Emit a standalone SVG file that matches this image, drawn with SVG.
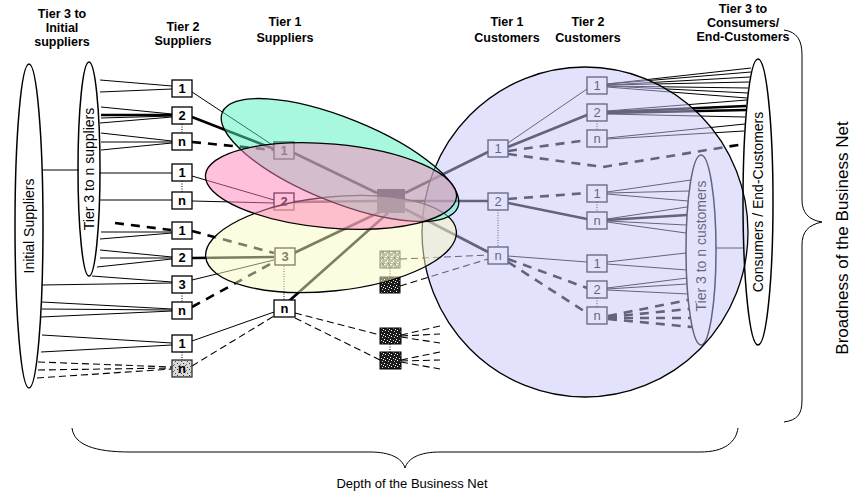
<svg xmlns="http://www.w3.org/2000/svg" width="851" height="493" viewBox="0 0 851 493">
  <defs>
    <style>
      .hd { font-family: "Liberation Sans", Arial, sans-serif; font-weight: bold; font-size: 12.5px; text-anchor: middle; fill: #000; }
      .lbl { font-family: "Liberation Sans", Arial, sans-serif; font-size: 14px; text-anchor: middle; fill: #000; }
      .sbx { fill: #fff; stroke: #000; stroke-width: 1.3; }
      .snum { font-family: "Liberation Sans", Arial, sans-serif; font-weight: bold; font-size: 13px; text-anchor: middle; fill: #000; }
      .cnum { font-family: "Liberation Sans", Arial, sans-serif; font-size: 13px; text-anchor: middle; fill: #000; }
      .ln { stroke: #000; stroke-width: 1; fill: none; }
      .thk { stroke: #000; stroke-width: 2.6; fill: none; }
      .dsh { stroke: #000; stroke-width: 1.1; fill: none; stroke-dasharray: 7 4; }
      .dthk { stroke: #000; stroke-width: 2.6; fill: none; stroke-dasharray: 9 7; }
      .dot { stroke: #000; stroke-width: 1; fill: none; stroke-dasharray: 1 1.5; }
      .grp { fill: none; stroke: #000; stroke-width: 1.5; }
      .brace { fill: none; stroke: #000; stroke-width: 1; }
    </style>
    <pattern id="noiseDk" width="6" height="6" patternUnits="userSpaceOnUse">
      <rect width="6" height="6" fill="#1c1c1c"/>
      <rect x="1" y="0" width="1" height="1" fill="#fff"/>
      <rect x="4" y="1" width="1" height="1" fill="#ccc"/>
      <rect x="0" y="3" width="1" height="1" fill="#fff"/>
      <rect x="3" y="4" width="1" height="1" fill="#ddd"/>
      <rect x="5" y="5" width="1" height="1" fill="#fff"/>
    </pattern>
    <pattern id="noiseMd" width="6" height="6" patternUnits="userSpaceOnUse">
      <rect width="6" height="6" fill="#8a8a8a"/>
      <rect x="0" y="0" width="2" height="1" fill="#fff"/>
      <rect x="3" y="2" width="1" height="2" fill="#eee"/>
      <rect x="5" y="0" width="1" height="1" fill="#222"/>
      <rect x="1" y="4" width="2" height="1" fill="#fff"/>
      <rect x="4" y="5" width="1" height="1" fill="#111"/>
    </pattern>
    <pattern id="noiseLt" width="6" height="6" patternUnits="userSpaceOnUse">
      <rect width="6" height="6" fill="#d8d8d8"/>
      <rect x="1" y="1" width="1" height="1" fill="#444"/>
      <rect x="4" y="0" width="1" height="1" fill="#666"/>
      <rect x="3" y="3" width="1" height="1" fill="#333"/>
      <rect x="0" y="4" width="1" height="1" fill="#777"/>
      <rect x="5" y="5" width="1" height="1" fill="#555"/>
    </pattern>
  </defs>

  <rect width="851" height="493" fill="#fff"/>

  <!-- column headings -->
  <g id="headings">
    <text class="hd" x="62" y="18">Tier 3 to</text>
    <text class="hd" x="62" y="32">Initial</text>
    <text class="hd" x="62" y="46">suppliers</text>
    <text class="hd" x="183" y="31">Tier 2</text>
    <text class="hd" x="183" y="45">Suppliers</text>
    <text class="hd" x="285" y="26">Tier 1</text>
    <text class="hd" x="285" y="42">Suppliers</text>
    <text class="hd" x="507" y="26">Tier 1</text>
    <text class="hd" x="507" y="42">Customers</text>
    <text class="hd" x="588" y="26">Tier 2</text>
    <text class="hd" x="588" y="42">Customers</text>
    <text class="hd" x="743" y="13">Tier 3 to</text>
    <text class="hd" x="743" y="27">Consumers/</text>
    <text class="hd" x="743" y="41">End-Customers</text>
  </g>

  <!-- connectors -->
  <g id="connectors">
    <!-- initial suppliers to tier 3..n suppliers -->
    <line class="ln" x1="43" y1="170" x2="79" y2="170"/>
    <!-- tier 3..n / initial suppliers to tier 2 suppliers -->
    <line class="ln" x1="100" y1="80" x2="172" y2="86"/>
    <line class="ln" x1="100" y1="92" x2="172" y2="89"/>
    <line class="ln" x1="101" y1="107" x2="172" y2="114"/>
    <line class="thk" x1="101" y1="115" x2="172" y2="115"/>
    <line class="ln" x1="101" y1="118" x2="172" y2="116"/>
    <line class="ln" x1="100" y1="123" x2="172" y2="117"/>
    <line class="ln" x1="101" y1="133" x2="172" y2="141"/>
    <line class="ln" x1="101" y1="142" x2="172" y2="142"/>
    <line class="ln" x1="101" y1="150" x2="172" y2="143"/>
    <line class="ln" x1="99" y1="173" x2="172" y2="173"/>
    <line class="ln" x1="100" y1="200" x2="172" y2="200"/>
    <line class="dthk" x1="115" y1="223" x2="171" y2="230"/>
    <line class="ln" x1="101" y1="232" x2="172" y2="232"/>
    <line class="ln" x1="100" y1="239" x2="172" y2="233"/>
    <line class="ln" x1="100" y1="250" x2="172" y2="257"/>
    <line class="ln" x1="100" y1="258" x2="172" y2="258"/>
    <line class="ln" x1="97" y1="267" x2="172" y2="259"/>
    <line class="ln" x1="42" y1="285" x2="172" y2="283"/>
    <line class="ln" x1="92" y1="276" x2="172" y2="282"/>
    <line class="ln" x1="42" y1="302" x2="172" y2="309"/>
    <line class="ln" x1="42" y1="309" x2="172" y2="310"/>
    <line class="ln" x1="41" y1="317" x2="172" y2="311"/>
    <line class="ln" x1="42" y1="335" x2="172" y2="343"/>
    <line class="ln" x1="41" y1="352" x2="172" y2="345"/>
    <line class="dsh" x1="38" y1="362" x2="172" y2="367"/>
    <line class="dsh" x1="38" y1="370" x2="172" y2="368"/>
    <line class="dsh" x1="37" y1="378" x2="172" y2="369"/>

    <!-- tier 2 suppliers to tier 1 suppliers -->
    <line class="ln" x1="192" y1="92" x2="274" y2="146"/>
    <line class="thk" x1="192" y1="117" x2="274" y2="149"/>
    <line class="dthk" x1="192" y1="142" x2="274" y2="150"/>
    <line class="ln" x1="192" y1="176" x2="274" y2="200"/>
    <line class="ln" x1="192" y1="201" x2="274" y2="203"/>
    <line class="dthk" x1="192" y1="231" x2="274" y2="253"/>
    <line class="thk" x1="192" y1="258" x2="274" y2="257"/>
    <line class="ln" x1="192" y1="280" x2="274" y2="260"/>
    <line class="dthk" x1="192" y1="307" x2="274" y2="262"/>
    <line class="ln" x1="192" y1="341" x2="274" y2="312"/>
    <line class="dsh" x1="192" y1="366" x2="274" y2="316"/>

    <!-- tier 1 suppliers to focal company -->
    <line class="thk" x1="294" y1="153" x2="377" y2="193"/>
    <line class="thk" x1="294" y1="202" x2="377" y2="201"/>
    <line class="thk" x1="294" y1="253" x2="380" y2="212"/>
    <line class="thk" x1="289" y1="301" x2="388" y2="213"/>

    <!-- focal company to tier 1 customers -->
    <line class="thk" x1="405" y1="193" x2="488" y2="152"/>
    <line class="thk" x1="405" y1="201" x2="488" y2="201"/>
    <line class="thk" x1="405" y1="209" x2="488" y2="252"/>

    <!-- tier 1 supplier n to unknown partners -->
    <line class="dsh" x1="295" y1="313" x2="380" y2="335"/>
    <line class="dsh" x1="295" y1="318" x2="380" y2="360"/>
    <line class="dsh" x1="401" y1="335" x2="440" y2="326"/>
    <line class="dsh" x1="401" y1="336" x2="440" y2="334"/>
    <line class="dsh" x1="401" y1="337" x2="440" y2="343"/>
    <line class="dsh" x1="401" y1="360" x2="440" y2="352"/>
    <line class="dsh" x1="401" y1="361" x2="440" y2="360"/>
    <line class="dsh" x1="401" y1="362" x2="440" y2="369"/>
    <line class="dsh" x1="400" y1="259" x2="488" y2="255"/>
    <line class="dsh" x1="400" y1="286" x2="488" y2="259"/>

    <!-- tier 1 customers to tier 2 customers -->
    <line class="ln" x1="508" y1="143" x2="587" y2="89"/>
    <line class="thk" x1="508" y1="147" x2="587" y2="115"/>
    <line class="dthk" x1="508" y1="151" x2="587" y2="140"/>
    <polyline class="dthk" points="508,154 603,167 744,144"/>
    <line class="dthk" x1="508" y1="199" x2="587" y2="193"/>
    <line class="thk" x1="508" y1="203" x2="587" y2="219"/>
    <line class="ln" x1="508" y1="256" x2="587" y2="262"/>
    <line class="dthk" x1="508" y1="259" x2="587" y2="288"/>
    <line class="dthk" x1="508" y1="262" x2="587" y2="313"/>

    <!-- tier 2 customers to consumers / end-customers -->
    <line class="ln" x1="607" y1="84" x2="751" y2="68"/>
    <line class="ln" x1="607" y1="84" x2="751" y2="72"/>
    <line class="ln" x1="607" y1="85" x2="750" y2="77"/>
    <line class="ln" x1="607" y1="85" x2="749" y2="82"/>
    <line class="ln" x1="607" y1="86" x2="748" y2="88"/>
    <line class="ln" x1="607" y1="86" x2="748" y2="93"/>
    <line class="ln" x1="607" y1="87" x2="747" y2="98"/>
    <line class="ln" x1="607" y1="111" x2="747" y2="100"/>
    <line class="thk" x1="607" y1="112" x2="746" y2="106"/>
    <line class="thk" x1="607" y1="113" x2="746" y2="110"/>
    <line class="ln" x1="607" y1="114" x2="745" y2="117"/>
    <line class="ln" x1="607" y1="138" x2="745" y2="124"/>
    <line class="ln" x1="607" y1="139" x2="744" y2="131"/>

    <!-- tier 2 customers to tier 3..n customers -->
    <line class="ln" x1="607" y1="192" x2="691" y2="180"/>
    <line class="ln" x1="607" y1="193" x2="689" y2="191"/>
    <line class="ln" x1="607" y1="194" x2="688" y2="201"/>
    <line class="ln" x1="607" y1="219" x2="687" y2="207"/>
    <line class="thk" x1="607" y1="220" x2="687" y2="215"/>
    <line class="ln" x1="607" y1="221" x2="686" y2="225"/>
    <line class="ln" x1="607" y1="222" x2="686" y2="233"/>
    <line class="ln" x1="607" y1="262" x2="686" y2="253"/>
    <line class="ln" x1="607" y1="264" x2="687" y2="270"/>
    <line class="ln" x1="607" y1="288" x2="687" y2="278"/>
    <line class="ln" x1="607" y1="289" x2="687" y2="284"/>
    <line class="ln" x1="607" y1="290" x2="688" y2="294"/>
    <line class="dthk" x1="608" y1="316" x2="688" y2="300"/>
    <line class="dthk" x1="608" y1="317" x2="689" y2="309"/>
    <line class="dthk" x1="608" y1="318" x2="690" y2="318"/>
    <line class="dthk" x1="608" y1="319" x2="692" y2="327"/>
    <line class="ln" x1="716" y1="248" x2="743" y2="248"/>

    <!-- dotted links to further nodes -->
    <line class="dot" x1="182" y1="124" x2="182" y2="133"/>
    <line class="dot" x1="182" y1="181" x2="182" y2="192"/>
    <line class="dot" x1="182" y1="293" x2="182" y2="302"/>
    <line class="dot" x1="182" y1="352" x2="182" y2="360"/>
    <line class="dot" x1="284" y1="266" x2="284" y2="300"/>
    <line class="dot" x1="390" y1="268" x2="390" y2="277"/>
    <line class="dot" x1="390" y1="344" x2="390" y2="352"/>
    <line class="dot" x1="498" y1="210" x2="498" y2="247"/>
    <line class="dot" x1="597" y1="121" x2="597" y2="130"/>
    <line class="dot" x1="597" y1="202" x2="597" y2="212"/>
    <line class="dot" x1="597" y1="298" x2="597" y2="307"/>
  </g>

  <!-- supplier side groups -->
  <g id="initial-suppliers">
    <ellipse class="grp" cx="29" cy="226" rx="14" ry="162" fill="#fff"/>
    <text class="lbl" transform="translate(34 226) rotate(-90)">Initial Suppliers</text>
  </g>
  <g id="tier3-suppliers">
    <ellipse class="grp" cx="89" cy="169" rx="11" ry="107" fill="#fff"/>
    <text class="lbl" transform="translate(94 169) rotate(-90)">Tier 3 to n suppliers</text>
  </g>

  <!-- tier 2 suppliers -->
  <g id="s2-1"><rect class="sbx" x="172" y="80" width="20" height="17"/><text class="snum" x="182" y="93">1</text></g>
  <g id="s2-2"><rect class="sbx" x="172" y="107" width="20" height="17"/><text class="snum" x="182" y="120">2</text></g>
  <g id="s2-n"><rect class="sbx" x="172" y="133" width="20" height="17"/><text class="snum" x="182" y="146">n</text></g>
  <g id="s2-1b"><rect class="sbx" x="172" y="164" width="20" height="17"/><text class="snum" x="182" y="177">1</text></g>
  <g id="s2-nb"><rect class="sbx" x="172" y="192" width="20" height="17"/><text class="snum" x="182" y="205">n</text></g>
  <g id="s2-1c"><rect class="sbx" x="172" y="222" width="20" height="17"/><text class="snum" x="182" y="235">1</text></g>
  <g id="s2-2c"><rect class="sbx" x="172" y="249" width="20" height="17"/><text class="snum" x="182" y="262">2</text></g>
  <g id="s2-3c"><rect class="sbx" x="172" y="276" width="20" height="17"/><text class="snum" x="182" y="289">3</text></g>
  <g id="s2-nc"><rect class="sbx" x="172" y="302" width="20" height="17"/><text class="snum" x="182" y="315">n</text></g>
  <g id="s2-1d"><rect class="sbx" x="172" y="335" width="20" height="17"/><text class="snum" x="182" y="348">1</text></g>
  <g id="s2-nd"><rect x="172" y="360" width="20" height="17" fill="url(#noiseLt)" stroke="#333" stroke-width="1.3"/><text class="snum" x="182" y="373" fill="#222">n</text></g>

  <!-- tier 1 suppliers -->
  <g id="s1-1"><rect class="sbx" x="274" y="142" width="20" height="17"/><text class="snum" x="284" y="155">1</text></g>
  <g id="s1-2"><rect class="sbx" x="274" y="193" width="20" height="17"/><text class="snum" x="284" y="206">2</text></g>
  <g id="s1-3"><rect class="sbx" x="275" y="248" width="20" height="17"/><text class="snum" x="285" y="261">3</text></g>
  <g id="s1-n"><rect class="sbx" x="274" y="300" width="21" height="17" stroke-width="2"/><text class="snum" x="284.5" y="313">n</text></g>

  <!-- focal company -->
  <g id="focal"><rect x="377" y="189" width="28" height="24" fill="#000"/></g>

  <!-- partners of unknown identity -->
  <g id="u-1"><rect x="380" y="251" width="20" height="17" fill="url(#noiseMd)" stroke="#333"/></g>
  <g id="u-2"><rect x="380" y="277" width="20" height="16" fill="url(#noiseDk)" stroke="#000"/></g>
  <g id="u-3"><rect x="380" y="328" width="21" height="16" fill="url(#noiseDk)" stroke="#000"/></g>
  <g id="u-4"><rect x="380" y="352" width="21" height="17" fill="url(#noiseDk)" stroke="#000"/></g>

  <!-- customer side boxes -->
  <g id="c1-1"><rect class="sbx" x="488" y="140" width="20" height="17"/><text class="cnum" x="498" y="153">1</text></g>
  <g id="c1-2"><rect class="sbx" x="488" y="193" width="20" height="17"/><text class="cnum" x="498" y="206">2</text></g>
  <g id="c1-n"><rect class="sbx" x="488" y="247" width="20" height="17"/><text class="cnum" x="498" y="260">n</text></g>
  <g id="c2-1"><rect class="sbx" x="587" y="77" width="20" height="17"/><text class="cnum" x="597" y="90">1</text></g>
  <g id="c2-2"><rect class="sbx" x="587" y="104" width="20" height="17"/><text class="cnum" x="597" y="117">2</text></g>
  <g id="c2-n"><rect class="sbx" x="587" y="130" width="20" height="17"/><text class="cnum" x="597" y="143">n</text></g>
  <g id="c2-1b"><rect class="sbx" x="587" y="185" width="20" height="17"/><text class="cnum" x="597" y="198">1</text></g>
  <g id="c2-nb"><rect class="sbx" x="587" y="212" width="20" height="17"/><text class="cnum" x="597" y="225">n</text></g>
  <g id="c2-1c"><rect class="sbx" x="587" y="255" width="20" height="17"/><text class="cnum" x="597" y="268">1</text></g>
  <g id="c2-2c"><rect class="sbx" x="587" y="281" width="20" height="17"/><text class="cnum" x="597" y="294">2</text></g>
  <g id="c2-nc"><rect class="sbx" x="587" y="307" width="20" height="17"/><text class="cnum" x="597" y="320">n</text></g>

  <g id="tier3-customers">
    <ellipse class="grp" cx="701" cy="250" rx="15" ry="95" fill="none"/>
    <text class="lbl" transform="translate(706 246) rotate(-90)">Tier 3 to n customers</text>
  </g>

  <!-- customer network area (translucent so the content shows through) -->
  <g id="customer-net">
    <ellipse cx="585" cy="232" rx="163" ry="165" fill="rgb(198,198,249)" fill-opacity="0.5" stroke="#000" stroke-width="1.3"/>
  </g>

  <g id="consumers">
    <ellipse class="grp" cx="758" cy="202" rx="15" ry="143" fill="#fff"/>
    <text class="lbl" transform="translate(763 202) rotate(-90)">Consumers / End-Customers</text>
  </g>

  <!-- translucent tier 1 supplier clusters -->
  <g id="cluster-yellow">
    <ellipse cx="331" cy="244" rx="126" ry="47" transform="rotate(-6 331 244)" fill="#f9f9c3" fill-opacity="0.5" stroke="#000" stroke-width="1.3"/>
  </g>
  <g id="cluster-teal">
    <ellipse cx="340" cy="160" rx="127" ry="42" transform="rotate(22 340 160)" fill="#51f1c1" fill-opacity="0.5" stroke="#000" stroke-width="1.3"/>
  </g>
  <g id="cluster-pink">
    <ellipse cx="331" cy="186" rx="126" ry="42" transform="rotate(5 331 186)" fill="#ff81b9" fill-opacity="0.5" stroke="#000" stroke-width="1.3"/>
  </g>

  <!-- dimension braces -->
  <g id="depth">
    <path class="brace" d="M72,428 C74,445 95,452 130,452 L370,452 C390,452 402,458 405,468 C408,458 420,452 440,452 L700,452 C725,452 736,442 738,428"/>
    <text class="lbl" style="font-size:13px" x="412" y="488">Depth of the Business Net</text>
  </g>
  <g id="broadness">
    <path class="brace" d="M784,30 C797,32 802,40 802,55 L802,200 C802,212 808,220 822,222 C808,225 802,232 802,245 L802,400 C802,415 797,420 784,422"/>
    <text class="lbl" style="font-size:17px" transform="translate(848 238) rotate(-90)">Broadness of the Business Net</text>
  </g>
</svg>
